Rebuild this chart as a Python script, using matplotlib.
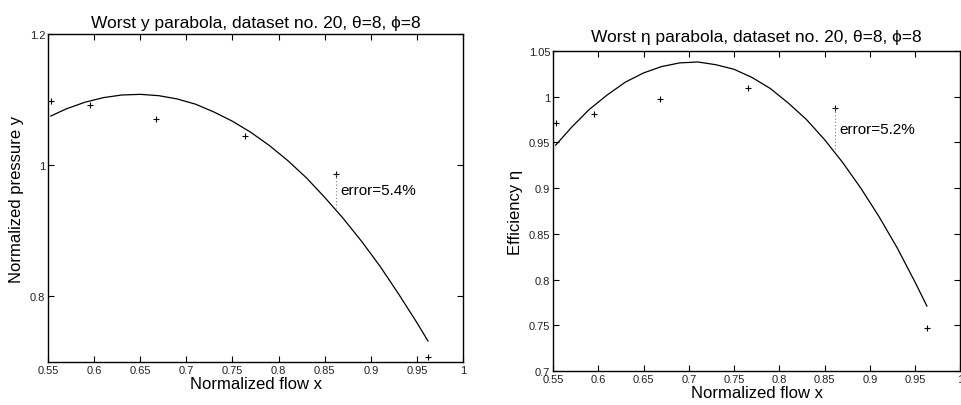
#!/usr/bin/env python3
"""Worst parabola fits for dataset no. 20: pressure and efficiency vs flow."""
import matplotlib
matplotlib.use("Agg")
import matplotlib.pyplot as plt

# measured points (same flow values in both panels)
flow_pts = [0.553, 0.595, 0.667, 0.764, 0.862, 0.962]
pressure_pts = [1.098, 1.092, 1.070, 1.045, 0.986, 0.707]
eta_flow_pts = [0.553, 0.595, 0.668, 0.765, 0.862, 0.963]
eta_pts = [0.971, 0.981, 0.997, 1.010, 0.988, 0.747]

# fitted parabolas
curve_x = [0.553, 0.57, 0.59, 0.61, 0.63, 0.65, 0.67, 0.69, 0.71, 0.73, 0.75,
           0.77, 0.79, 0.81, 0.83, 0.85, 0.87, 0.89, 0.91, 0.93, 0.95, 0.962]
pressure_curve = [1.075, 1.086, 1.096, 1.103, 1.107, 1.108, 1.106, 1.101,
                  1.093, 1.081, 1.067, 1.050, 1.030, 1.007, 0.981, 0.951,
                  0.919, 0.884, 0.846, 0.804, 0.760, 0.732]
eta_curve_x = [0.553, 0.57, 0.59, 0.61, 0.63, 0.65, 0.67, 0.69, 0.71, 0.73, 0.75,
               0.77, 0.79, 0.81, 0.83, 0.85, 0.87, 0.89, 0.91, 0.93, 0.95, 0.963]
eta_curve = [0.947, 0.966, 0.986, 1.002, 1.016, 1.026, 1.033, 1.037, 1.038,
             1.035, 1.030, 1.021, 1.009, 0.993, 0.975, 0.953, 0.928, 0.900,
             0.869, 0.835, 0.797, 0.771]

# worst-error markers: x, measured value, curve value, label
p_err = (0.862, 0.986, 0.935, "error=5.4%")
e_err = (0.862, 0.988, 0.939, "error=5.2%")

xticks = [0.55, 0.6, 0.65, 0.7, 0.75, 0.8, 0.85, 0.9, 0.95, 1.0]
xticklabels = ["0.55", "0.6", "0.65", "0.7", "0.75", "0.8", "0.85", "0.9", "0.95", "1"]
p_yticks = [0.8, 1.0, 1.2]
p_yticklabels = ["0.8", "1", "1.2"]
e_yticks = [0.7, 0.75, 0.8, 0.85, 0.9, 0.95, 1.0, 1.05]
e_yticklabels = ["0.7", "0.75", "0.8", "0.85", "0.9", "0.95", "1", "1.05"]

plt.rcParams["font.family"] = ["Liberation Sans", "DejaVu Sans"]


def style(ax):
    ax.tick_params(direction="in", top=True, right=True, length=4, width=0.8,
                   labelsize=8, pad=2, labelcolor="#222222")
    for s in ax.spines.values():
        s.set_linewidth(1.0)


def panel(ax, px, py, cx, cy, err, ylim, yt, ytl, title, ylabel, title_pad):
    ax.plot(cx, cy, color="black", lw=0.9)
    ax.plot(px, py, "+", color="black", ms=5, mew=0.8)
    x, top, bot, label = err
    ax.plot([x, x], [top, bot], color="gray", lw=0.8, ls=(0, (1, 2)))
    ax.text(x + 0.0045, (top + bot) / 2 + 0.001, label, fontsize=11, va="center")
    ax.set_xlim(0.55, 1.0)
    ax.set_ylim(*ylim)
    ax.set_xticks(xticks)
    ax.set_xticklabels(xticklabels)
    ax.set_yticks(yt)
    ax.set_yticklabels(ytl)
    ax.set_xlabel("Normalized flow x", fontsize=12, labelpad=1)
    ax.set_ylabel(ylabel, fontsize=12, labelpad=4)
    ax.set_title(title, fontsize=12.5, pad=title_pad)
    style(ax)


fig = plt.figure(figsize=(9.61, 4.06), dpi=100)
ax1 = fig.add_axes([0.0500, 0.1059, 0.4318, 0.8079])
ax2 = fig.add_axes([0.5754, 0.0837, 0.4240, 0.7882])

panel(ax1, flow_pts, pressure_pts, curve_x, pressure_curve, p_err,
      (0.7, 1.2), p_yticks, p_yticklabels,
      "Worst y parabola, dataset no. 20, \u03b8=8, \u03d5=8",
      "Normalized pressure y", 5)
panel(ax2, eta_flow_pts, eta_pts, eta_curve_x, eta_curve, e_err,
      (0.7, 1.05), e_yticks, e_yticklabels,
      "Worst \u03b7 parabola, dataset no. 20, \u03b8=8, \u03d5=8",
      "Efficiency \u03b7", 7)

fig.savefig("out.png", dpi=100)
